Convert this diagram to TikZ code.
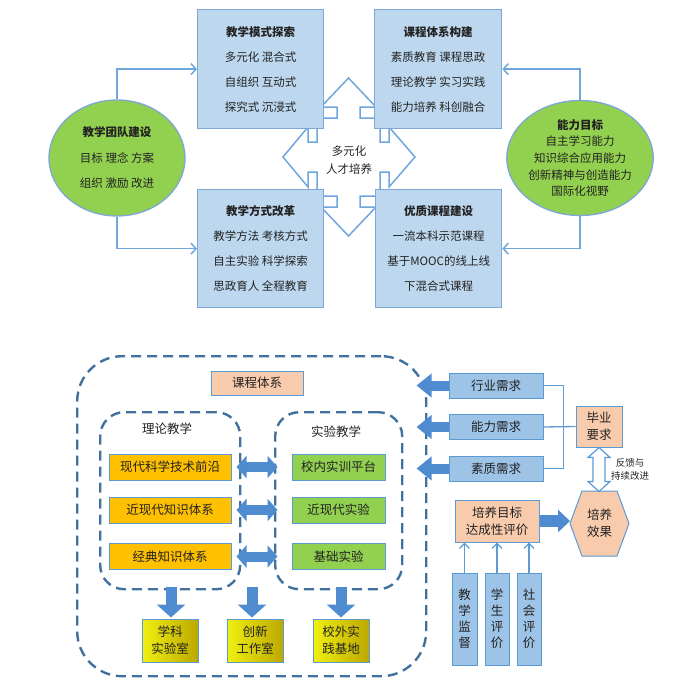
\documentclass[tikz,border=0pt]{standalone}
\usepackage{fontspec}
\setmainfont{Noto Sans CJK SC}
\usetikzlibrary{shapes.geometric,arrows.meta,calc}
\definecolor{tfill}{HTML}{BDD7EE}
\definecolor{tborder}{HTML}{7EA6D6}
\definecolor{lblue}{HTML}{6FA6DC}
\definecolor{egreen}{HTML}{92D050}
\definecolor{dblue}{HTML}{41719C}
\definecolor{peach}{HTML}{F8CBAD}
\definecolor{mblue}{HTML}{5B9BD5}
\definecolor{orng}{HTML}{FFC000}
\definecolor{nfill}{HTML}{9DC3E6}
\definecolor{ablue}{HTML}{4F8BCF}
\definecolor{txt}{HTML}{222222}
\definecolor{yl}{HTML}{F0F010}
\definecolor{ym}{HTML}{FFFF30}
\definecolor{yr}{HTML}{BCA800}
\begin{document}
\begin{tikzpicture}[x=1pt,y=-1pt,
  tbox/.style={draw=tborder, fill=tfill, line width=1.3, inner sep=0, align=center, text=txt, font=\fontsize{11.5}{25}\selectfont},
  ell/.style={ellipse, draw=tborder, fill=egreen, line width=1.3, inner sep=0, align=center, text=txt},
  conn/.style={draw=lblue, line width=1.5, -{Straight Barb[length=5pt,width=11pt]}},
  qarrow/.style={draw=lblue, fill=white, line width=1.5, line join=miter},
  dframe/.style={draw=dblue, line width=2.4, dash pattern=on 10pt off 6pt, inner sep=0},
  bfont/.style={font=\fontsize{12.5}{17}\selectfont, text=txt, align=center},
  pbox/.style={bfont, draw=mblue, fill=peach, line width=1, inner sep=0},
  obox/.style={bfont, draw=mblue, fill=orng, line width=1, inner sep=0, minimum width=122, minimum height=26},
  gbox/.style={bfont, draw=mblue, fill=egreen, line width=1, inner sep=0, minimum width=93, minimum height=26},
  ybox/.style={bfont, draw=mblue, left color=yl, middle color=ym, right color=yr, line width=1, inner sep=0, minimum width=56, minimum height=43},
  nbox/.style={bfont, draw=mblue, fill=nfill, line width=1, inner sep=0},
  blkh/.style={draw=ablue, fill=ablue, line width=10pt, -{Triangle[length=15pt,width=23pt]}},
  blkd/.style={draw=ablue, fill=ablue, line width=10pt, {Triangle[length=10pt,width=22pt]}-{Triangle[length=10pt,width=22pt]}},
  blkv/.style={draw=ablue, fill=ablue, line width=11pt, -{Triangle[length=13pt,width=28pt]}},
  thin/.style={draw=mblue, line width=1.3},
  thinarr/.style={draw=mblue, line width=1.3, -{Straight Barb[length=5pt,width=10pt]}}
]
\useasboundingbox (0,0) rectangle (680,680);

% ---------- top part ----------
\draw[qarrow] (348.5,78) -- (376,107) -- (360,107) -- (360,118) -- (380,118) -- (380,142)
  -- (389,142) -- (389,127) -- (415,157) -- (389,187) -- (389,172) -- (380,172) -- (380,196)
  -- (360,196) -- (360,207) -- (376,207) -- (348.5,236) -- (321,207) -- (337,207) -- (337,196)
  -- (317,196) -- (317,172) -- (308,172) -- (308,187) -- (283,157) -- (308,127) -- (308,142)
  -- (317,142) -- (317,118) -- (337,118) -- (337,107) -- (321,107) -- cycle;
\node[font=\fontsize{11.5}{18}\selectfont, text=txt, align=center] (qc) at (349,160) {多元化\\人才培养};

\node[tbox, minimum width=126, minimum height=119, anchor=north west] (b1) at (197,9)
  {{\bfseries 教学模式探索}\\多元化\ 混合式\\自组织\ 互动式\\探究式\ 沉浸式};
\node[tbox, minimum width=127, minimum height=119, anchor=north west] (b2) at (374,9)
  {{\bfseries 课程体系构建}\\素质教育\ 课程思政\\理论教学\ 实习实践\\能力培养\ 科创融合};
\node[tbox, minimum width=126, minimum height=118, anchor=north west] (b3) at (197,189)
  {{\bfseries 教学方式改革}\\教学方法\ 考核方式\\自主实验\ 科学探索\\思政育人\ 全程教育};
\node[tbox, minimum width=126, minimum height=118, anchor=north west] (b4) at (375,189)
  {{\bfseries 优质课程建设}\\一流本科示范课程\\基于MOOC的线上线\\下混合式课程};

\node[ell, minimum width=136, minimum height=116, font=\fontsize{11.5}{25.5}\selectfont] (e1) at (117,158)
  {{\bfseries 教学团队建设}\\目标\ 理念\ 方案\\组织\ 激励\ 改进};
\node[ell, minimum width=134, minimum height=115, font=\fontsize{11.5}{16.7}\selectfont] (e2) at (580,158)
  {{\bfseries 能力目标}\\自主学习能力\\知识综合应用能力\\创新精神与创造能力\\国际化视野};

\draw[conn] (e1.north) |- (b1.west);
\draw[conn] (e1.south) |- (b3.west);
\draw[conn] (e2.north) |- (b2.east);
\draw[conn] (e2.south) |- (b4.east);

% ---------- bottom part ----------
\node[dframe, rounded corners=45, minimum width=349, minimum height=320, anchor=north west] (fr) at (76,355) {};
\node[dframe, rounded corners=24, minimum width=140, minimum height=177, anchor=north west] (fl) at (99,411) {};
\node[dframe, rounded corners=24, minimum width=127, minimum height=177, anchor=north west] (fe) at (274,411) {};

\node[pbox, minimum width=92, minimum height=24] (kc) at (257,383) {课程体系};
\node[bfont] (t1) at (167,429) {理论教学};
\node[bfont] (t2) at (336,432) {实验教学};

\node[obox] (o1) at (170,467) {现代科学技术前沿};
\node[obox] (o2) at (170,510) {近现代知识体系};
\node[obox] (o3) at (170,556.5) {经典知识体系};
\node[gbox] (g1) at (338.5,467) {校内实训平台};
\node[gbox] (g2) at (338.5,510) {近现代实验};
\node[gbox] (g3) at (338.5,556.5) {基础实验};

\draw[blkd] ([xshift=5]o1.east) -- ([xshift=-14]g1.west);
\draw[blkd] ([xshift=5]o2.east) -- ([xshift=-14]g2.west);
\draw[blkd] ([xshift=5]o3.east) -- ([xshift=-14]g3.west);

\node[ybox] (y1) at (170,640.5) {学科\\实验室};
\node[ybox] (y2) at (255,640.5) {创新\\工作室};
\node[ybox] (y3) at (341,640.5) {校外实\\践基地};

\draw[blkv] ($(y1.north)+(1,-32)$) -- ($(y1.north)+(1,-1)$);
\draw[blkv] ($(y2.north)+(-3,-32)$) -- ($(y2.north)+(-3,-1)$);
\draw[blkv] ($(y3.north)+(0,-32)$) -- ($(y3.north)+(0,-1)$);

\node[nbox, minimum width=94, minimum height=25] (n1) at (496,385.5) {行业需求};
\node[nbox, minimum width=94, minimum height=25] (n2) at (496,427) {能力需求};
\node[nbox, minimum width=94, minimum height=25] (n3) at (496,468.5) {素质需求};

\draw[blkh] (n1.west) -- ++(-32,0);
\draw[blkh] (n2.west) -- ++(-32,0);
\draw[blkh] (n3.west) -- ++(-32,0);

\node[pbox, minimum width=46, minimum height=41] (gr) at (599,426.5) {毕业\\要求};
\draw[thin] (n1.east) -- ++(20,0) |- (n3.east);
\draw[thin] (n2.east) -- (gr.west);

% hexagon
\coordinate (hW) at (570,523.5);
\draw[draw=mblue, fill=peach, line width=1] (hW) -- (582,491) -- (617,491) -- (629,523.5) -- (617,556) -- (582,556) -- cycle;
\node[bfont] (hex) at (599.5,523.5) {培养\\效果};

% outlined double arrow
\draw[draw=mblue, fill=white, line width=1.2, line join=miter] (gr.south) -- ++(11,10) -- ++(-5,0) -- ++(0,24) -- ++(5,0)
  -- ++(-11,10) -- ++(-11,-10) -- ++(5,0) -- ++(0,-24) -- ++(-5,0) -- cycle;
\node[font=\fontsize{9.5}{13}\selectfont, text=txt, align=center] (fb) at (630,469.5) {反馈与\\持续改进};

\node[pbox, minimum width=84, minimum height=42] (ev) at (497,521) {培养目标\\达成性评价};
\draw[blkh, line width=12pt, -{Triangle[length=12pt,width=22pt]}] (ev.east) -- (ev.east -| hW);

\node[nbox, minimum width=25, minimum height=92, font=\fontsize{12.5}{16}\selectfont] (v1) at (464.5,619) {教\\学\\监\\督};
\node[nbox, minimum width=24, minimum height=92, font=\fontsize{12.5}{16}\selectfont] (v2) at (497,619) {学\\生\\评\\价};
\node[nbox, minimum width=24, minimum height=92, font=\fontsize{12.5}{16}\selectfont] (v3) at (529,619) {社\\会\\评\\价};

\draw[thinarr] (v1.north) -- (v1.north |- ev.south);
\draw[thinarr] (v2.north) -- (v2.north |- ev.south);
\draw[thinarr] (v3.north) -- (v3.north |- ev.south);
\end{tikzpicture}
\end{document}
